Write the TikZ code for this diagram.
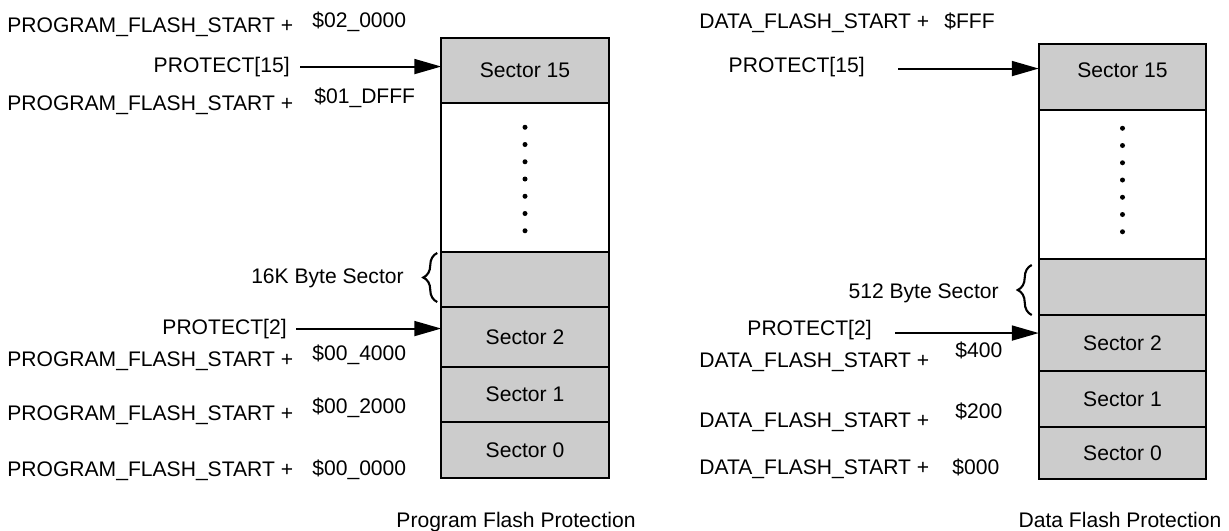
\documentclass[tikz,border=0pt]{standalone}
\usepackage{fontspec}
\setmainfont{Liberation Sans}
\usepackage{xcolor}
\usetikzlibrary{arrows.meta, positioning, decorations.pathreplacing}
\definecolor{secgray}{HTML}{CCCCCC}

\begin{document}
\begin{tikzpicture}[
  every node/.style = {font=\fontsize{12}{14}\selectfont},
  sector/.style = {
    rectangle, draw=black, fill=secgray, line width=1pt,
    minimum width=3.35cm, inner sep=0pt, outer sep=0pt,
    text centered
  },
  gapbox/.style = {sector, fill=white},
  lbl/.style = {inner sep=0pt},
  arr/.style = {-{Triangle[length=0.54cm, width=0.30cm]}, line width=1.1pt},
  brc/.style = {decorate, decoration={brace, amplitude=0.28cm}, line width=1.2pt}
]
\useasboundingbox (0,0) rectangle (24.58,-10.62);

% Program flash column
\node[sector, minimum height=1.30cm, anchor=north] (p15) at (10.50,-0.76) {Sector 15};
\node[gapbox, minimum height=2.98cm, below=0pt of p15] (pdots) {};
\node[sector, minimum height=1.10cm, below=0pt of pdots] (pblank) {};
\node[sector, minimum height=1.20cm, below=0pt of pblank] (p2) {Sector 2};
\node[sector, minimum height=1.10cm, below=0pt of p2] (p1) {Sector 1};
\node[sector, minimum height=1.12cm, below=0pt of p1] (p0) {Sector 0};

% Data flash column
\node[sector, minimum height=1.32cm, text depth=0.28cm, anchor=north] (d15) at (22.45,-0.88) {Sector 15};
\node[gapbox, minimum height=2.98cm, below=0pt of d15] (ddots) {};
\node[sector, minimum height=1.12cm, below=0pt of ddots] (dblank) {};
\node[sector, minimum height=1.12cm, below=0pt of dblank] (d2) {Sector 2};
\node[sector, minimum height=1.12cm, below=0pt of d2] (d1) {Sector 1};
\node[sector, minimum height=1.04cm, below=0pt of d1] (d0) {Sector 0};

% Dots in the skipped sectors
\foreach \col/\dy in {pdots/-0.03, ddots/0.09}
  \foreach \k in {-3,...,3}
    \fill (\col.center) ++(0,\dy+\k*0.345) circle (0.05);

% Program flash addresses
\node[lbl, anchor=base west] (pa0) at (0.14,-0.64) {PROGRAM\_FLASH\_START +};
\node[lbl, anchor=base west] (pv0) at (6.24,-0.54) {\$02\_0000};
\node[lbl, anchor=base west] (pa1) at (0.14,-2.20) {PROGRAM\_FLASH\_START +};
\node[lbl, anchor=base west] (pv1) at (6.28,-2.06) {\$01\_DFFF};
\node[lbl, anchor=base west] (pa2) at (0.14,-7.32) {PROGRAM\_FLASH\_START +};
\node[lbl, anchor=base west] (pv2) at (6.24,-7.20) {\$00\_4000};
\node[lbl, anchor=base west] (pa3) at (0.14,-8.40) {PROGRAM\_FLASH\_START +};
\node[lbl, anchor=base west] (pv3) at (6.24,-8.26) {\$00\_2000};
\node[lbl, anchor=base west] (pa4) at (0.14,-9.52) {PROGRAM\_FLASH\_START +};
\node[lbl, anchor=base west] (pv4) at (6.24,-9.50) {\$00\_0000};

% Data flash addresses
\node[lbl, anchor=base west] (da0) at (13.98,-0.56) {DATA\_FLASH\_START +};
\node[lbl, anchor=base west] (dv0) at (18.88,-0.56) {\$FFF};
\node[lbl, anchor=base west] (da1) at (13.98,-7.34) {DATA\_FLASH\_START +};
\node[lbl, anchor=base west] (dv1) at (19.10,-7.14) {\$400};
\node[lbl, anchor=base west] (da2) at (13.98,-8.54) {DATA\_FLASH\_START +};
\node[lbl, anchor=base west] (dv2) at (19.10,-8.36) {\$200};
\node[lbl, anchor=base west] (da3) at (13.98,-9.48) {DATA\_FLASH\_START +};
\node[lbl, anchor=base west] (dv3) at (19.04,-9.48) {\$000};

% Protect bits
\node[lbl, anchor=base east] (pr15) at (5.80,-1.44) {PROTECT[15]};
\node[lbl, anchor=base east] (pr2) at (5.74,-6.68) {PROTECT[2]};
\node[lbl, anchor=base east] (dr15) at (17.30,-1.44) {PROTECT[15]};
\node[lbl, anchor=base east] (dr2) at (17.44,-6.70) {PROTECT[2]};

% Sector size notes
\node[lbl, anchor=base east] (psize) at (8.08,-5.66) {16K Byte Sector};
\node[lbl, anchor=base east] (dsize) at (19.98,-5.96) {512 Byte Sector};

% Captions
\node[lbl, anchor=base] (ptitle) at (10.32,-10.54) {Program Flash Protection};
\node[lbl, anchor=base] (dtitle) at (22.40,-10.54) {Data Flash Protection};

% Arrows
\draw[arr] ([xshift=0.20cm]pr15.east) -- (pr15.east -| p15.west);
\draw[arr] ([xshift=0.18cm]pr2.east) -- (pr2.east -| p2.west);
\draw[arr] ([xshift=0.66cm,yshift=-0.04cm]dr15.east) -- ([yshift=-0.04cm]dr15.east -| d15.west);
\draw[arr] ([xshift=0.46cm,yshift=-0.07cm]dr2.east) -- ([yshift=-0.07cm]dr2.east -| d2.west);

% Braces
\draw[brc] ([xshift=-0.08cm,yshift=0.10cm]pblank.south west) -- ([xshift=-0.08cm,yshift=-0.02cm]pblank.north west);
\draw[brc] ([xshift=-0.14cm]dblank.south west) -- ([xshift=-0.14cm,yshift=-0.12cm]dblank.north west);

\end{tikzpicture}
\end{document}
